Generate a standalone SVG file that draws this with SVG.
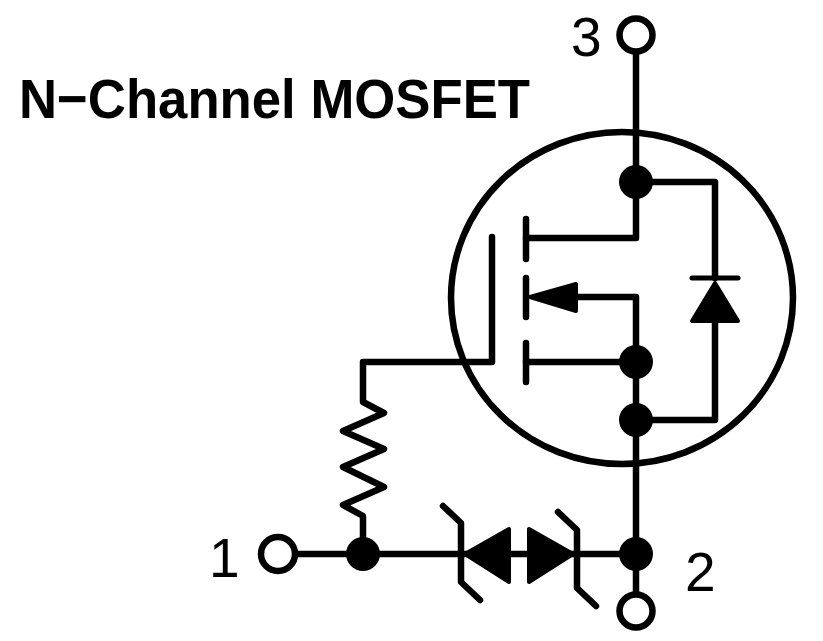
<svg xmlns="http://www.w3.org/2000/svg" width="823" height="641" viewBox="0 0 823 641">
<style>
.w{fill:none;stroke:#000;stroke-width:6.5;stroke-linejoin:round;stroke-linecap:round}
.t{fill:#000;stroke:#000;stroke-width:4;stroke-linejoin:round}
.d{fill:#000}
.o{fill:#fff;stroke:#000;stroke-width:6.5}
.n{font-family:"Liberation Sans",Arial,sans-serif;font-size:55px;fill:#000}
</style>
<rect width="823" height="641" fill="#fff"/>
<text id="title" x="19" y="118" font-family="'Liberation Sans',Arial,sans-serif" font-size="56" font-weight="700" textLength="511" lengthAdjust="spacingAndGlyphs">N−Channel MOSFET</text>
<g id="connectors">
<ellipse class="w" cx="622" cy="298" rx="171" ry="166"/>
<path class="w" d="M636 52V238H526"/>
<path class="w" d="M636 182H715V278"/>
<path class="w" d="M715 322V420H636"/>
<path class="w" d="M577 297H636V594"/>
<path class="w" d="M526 362H636"/>
<path class="w" d="M492 237V362H363V402L384 413L343 431L384 449L343 467L384 487L343 505L363 516V554"/>
<path class="w" d="M296 554H636"/>
</g>
<g id="gate-plates">
<path class="w" d="M526 219V259M526 278V317M526 343V382"/>
</g>
<g id="body-arrow"><path class="t" d="M530 297L576 284V311Z"/></g>
<g id="body-diode">
<path class="t" d="M715 283L692 321H738Z"/>
<path class="w" style="stroke-width:5" d="M692 278H738"/>
</g>
<g id="zener-1">
<path class="w" d="M443 506L461 523V582L480 600"/>
<path class="t" d="M465 554L509 529V582Z"/>
</g>
<g id="zener-2">
<path class="w" d="M558 512L577 530V588L596 606"/>
<path class="t" d="M573 554L529 529V582Z"/>
</g>
<g id="junctions">
<circle class="d" cx="636" cy="182" r="17"/>
<circle class="d" cx="636" cy="362" r="17"/>
<circle class="d" cx="636" cy="420" r="17"/>
<circle class="d" cx="636" cy="554" r="17"/>
<circle class="d" cx="363" cy="554" r="17"/>
</g>
<g id="terminal-3"><circle class="o" cx="636" cy="35" r="16.5"/><text class="n" x="571" y="56">3</text></g>
<g id="terminal-1"><circle class="o" cx="278" cy="554" r="17"/><text class="n" x="209" y="577">1</text></g>
<g id="terminal-2"><circle class="o" cx="636" cy="611" r="16.5"/><text class="n" x="685" y="591">2</text></g>
</svg>
